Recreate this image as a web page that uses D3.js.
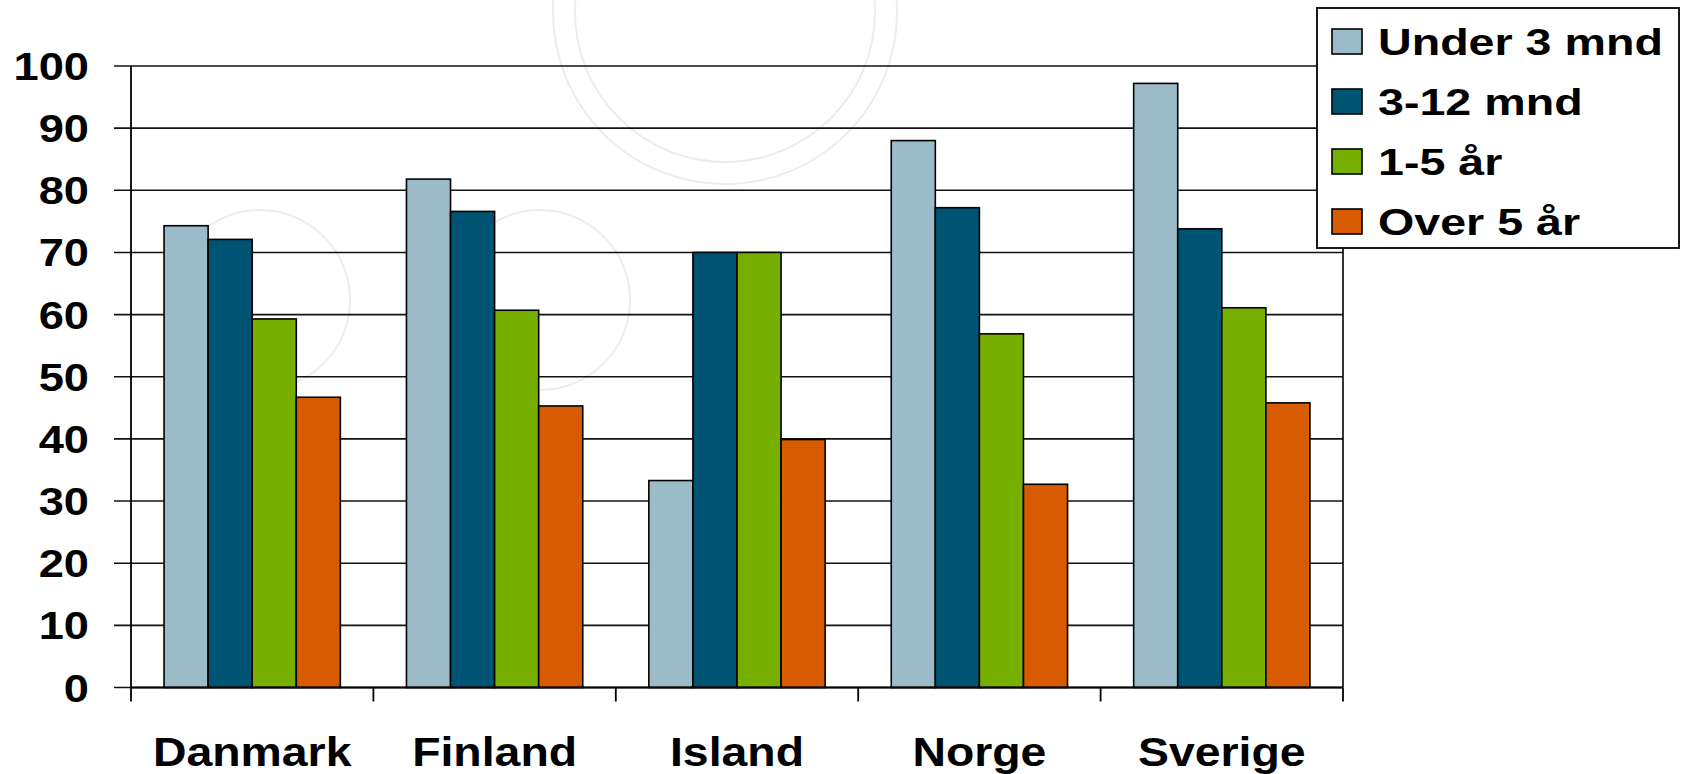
<!DOCTYPE html>
<html>
<head>
<meta charset="utf-8">
<script src="https://cdn.jsdelivr.net/npm/d3@7"></script>
<style>
  html, body { margin: 0; padding: 0; background: #fff; }
  svg { display: block; font-family: "Liberation Sans", Arial, sans-serif; font-weight: bold; }
</style>
</head>
<body>
<div id="output"></div>
<script>
(function () {

"use strict";

var categories = [ "Danmark", "Finland", "Island", "Norge", "Sverige" ]
var seriesNames = [ "Under 3 mnd", "3-12 mnd", "1-5 år", "Over 5 år" ]
var seriesColors = [ "#9bbbc8", "#005473", "#77af00", "#d95b00" ]

var under3 = [ 74.3, 81.8, 33.3, 88.0, 97.2 ]
var m3to12 = [ 72.1, 76.6, 70.0, 77.2, 73.8 ]
var y1to5 = [ 59.3, 60.7, 70.0, 56.9, 61.1 ]
var over5 = [ 46.7, 45.3, 39.9, 32.7, 45.8 ]

var yTicks = [ 0, 10, 20, 30, 40, 50, 60, 70, 80, 90, 100 ]

var width = 1682
  , height = 774
  , left = 131
  , right = 1343
  , top = 66
  , bottom = 687.5
  , stretch = 1.16

var svg = d3.select("#output").append("svg").attr("width", width).attr("height", height)

// faint watermark ornament in the background
var mark = svg.append("g").attr("fill", "none").attr("stroke", "#ececec").attr("stroke-width", 2)
mark.append("circle").attr("cx", 725).attr("cy", 12).attr("r", 150)
mark.append("circle").attr("cx", 725).attr("cy", 12).attr("r", 172)
mark.append("circle").attr("cx", 260).attr("cy", 300).attr("r", 90)
mark.append("circle").attr("cx", 540).attr("cy", 300).attr("r", 90)

var x0 = d3.scaleBand().domain(categories).range([left, right]).padding(0)
var x1 = d3.scaleBand().domain(seriesNames).range([0, x0.bandwidth()]).paddingInner(0).paddingOuter(0.75)
var y = d3.scaleLinear().domain([0, 100]).range([bottom, top])

// Gridlines with outer tick marks
svg.append("g")
  .selectAll("line").data(yTicks).enter()
  .append("line")
  .attr("x1", left - 17).attr("x2", right)
  .attr("y1", function (d) { return y(d) }).attr("y2", function (d) { return y(d) })
  .style("stroke", "#111").style("stroke-width", 1.6)

// Bars
var rows = categories.map(function (c, i) {
  return [ under3[i], m3to12[i], y1to5[i], over5[i] ]
})

svg.append("g")
  .selectAll("g").data(rows).enter()
  .append("g")
  .attr("transform", function (d, i) { return "translate(" + x0(categories[i]) + ",0)" })
  .selectAll("rect").data(function (d) { return d }).enter()
  .append("rect")
  .attr("x", function (d, i) { return x1(seriesNames[i]) })
  .attr("y", function (d) { return y(d) })
  .attr("width", x1.bandwidth())
  .attr("height", function (d) { return y(0) - y(d) })
  .attr("fill", function (d, i) { return seriesColors[i] })
  .style("stroke", "#000").style("stroke-width", 1.6)

// Axes
svg.append("line").attr("x1", left).attr("x2", left).attr("y1", top).attr("y2", bottom)
  .style("stroke", "#000").style("stroke-width", 1.8)
svg.append("line").attr("x1", right).attr("x2", right).attr("y1", top).attr("y2", bottom)
  .style("stroke", "#000").style("stroke-width", 1.6)
svg.append("line").attr("x1", left).attr("x2", right).attr("y1", bottom).attr("y2", bottom)
  .style("stroke", "#000").style("stroke-width", 1.8)

var xBounds = categories.map(function (c) { return x0(c) }).concat([ right ])
svg.append("g")
  .selectAll("line").data(xBounds).enter()
  .append("line")
  .attr("x1", function (d) { return d }).attr("x2", function (d) { return d })
  .attr("y1", bottom).attr("y2", bottom + 14)
  .style("stroke", "#000").style("stroke-width", 1.8)

// Y labels
svg.append("g")
  .selectAll("text").data(yTicks).enter()
  .append("text")
  .attr("transform", function (d) { return "translate(89," + (y(d) + 14) + ") scale(" + stretch + ",1)" })
  .attr("text-anchor", "end")
  .style("font-size", "39px")
  .text(function (d) { return d })

// Category labels
svg.append("g")
  .selectAll("text").data(categories).enter()
  .append("text")
  .attr("transform", function (d) { return "translate(" + (x0(d) + x0.bandwidth() / 2) + ",766) scale(" + stretch + ",1)" })
  .attr("text-anchor", "middle")
  .style("font-size", "40px")
  .text(function (d) { return d })

// Legend
var legend = svg.append("g").attr("transform", "translate(1317,8)")
legend.append("rect")
  .attr("width", 362).attr("height", 240)
  .attr("fill", "#fff")
  .style("stroke", "#000").style("stroke-width", 1.8)

var items = legend.selectAll("g.item").data(seriesNames).enter()
  .append("g").attr("class", "item")
  .attr("transform", function (d, i) { return "translate(0," + (33.5 + i * 60) + ")" })

items.append("rect")
  .attr("x", 15).attr("y", -12.5)
  .attr("width", 30).attr("height", 25)
  .attr("fill", function (d, i) { return seriesColors[i] })
  .style("stroke", "#000").style("stroke-width", 1.6)

items.append("text")
  .attr("transform", "translate(61,13.5) scale(1.26,1)")
  .style("font-size", "37px")
  .text(function (d) { return d })

}())
</script>
</body>
</html>
